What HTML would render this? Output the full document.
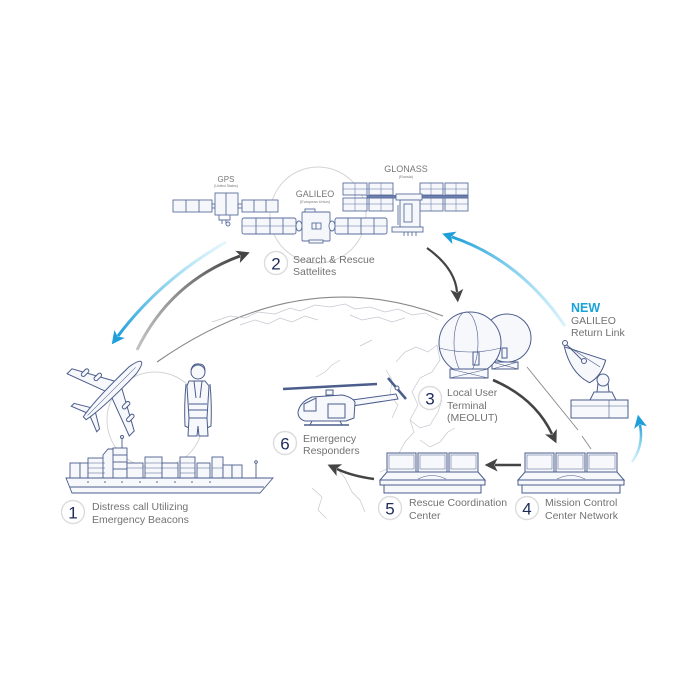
<!DOCTYPE html>
<html><head><meta charset="utf-8">
<style>
html,body{margin:0;padding:0;background:#fff;}
svg{display:block;}
text{font-family:"Liberation Sans",sans-serif;}
</style></head>
<body>
<svg width="700" height="700" viewBox="0 0 700 700" xmlns="http://www.w3.org/2000/svg">
<defs>
  <marker id="hd" viewBox="0 0 10 10" refX="2" refY="5" markerWidth="14" markerHeight="13" markerUnits="userSpaceOnUse" orient="auto">
    <path d="M0,0 L10,5 L0,10 L2.5,5 Z" fill="#444"/>
  </marker>
  <marker id="hb" viewBox="0 0 10 10" refX="2" refY="5" markerWidth="15" markerHeight="13" markerUnits="userSpaceOnUse" orient="auto">
    <path d="M0,0 L10,5 L0,10 L2.5,5 Z" fill="#1e9fd9"/>
  </marker>
  <linearGradient id="g12" gradientUnits="userSpaceOnUse" x1="137" y1="350" x2="240" y2="256">
    <stop offset="0" stop-color="#888" stop-opacity="0.5"/><stop offset="1" stop-color="#444"/>
  </linearGradient>
  <linearGradient id="g21" gradientUnits="userSpaceOnUse" x1="226" y1="242" x2="118" y2="336">
    <stop offset="0" stop-color="#7fd6f2" stop-opacity="0.2"/><stop offset="1" stop-color="#1e9fd9"/>
  </linearGradient>
  <linearGradient id="gret" gradientUnits="userSpaceOnUse" x1="565" y1="326" x2="452" y2="237">
    <stop offset="0" stop-color="#7fd6f2" stop-opacity="0.3"/><stop offset="1" stop-color="#1e9fd9"/>
  </linearGradient>
  <linearGradient id="gsm" gradientUnits="userSpaceOnUse" x1="632" y1="462" x2="640" y2="424">
    <stop offset="0" stop-color="#7fd6f2" stop-opacity="0.3"/><stop offset="1" stop-color="#1e9fd9"/>
  </linearGradient>
</defs>

<rect width="700" height="700" fill="#fff"/>

<!-- faint grouping circles -->
<circle cx="318" cy="215" r="48" fill="none" stroke="#d4d4d4" stroke-width="1"/>
<circle cx="155" cy="420" r="48" fill="none" stroke="#d4d4d4" stroke-width="1"/>

<!-- globe arc -->
<path d="M157,362 Q300,262 443,316" fill="none" stroke="#888" stroke-width="1.1"/>
<!-- faint map lines -->
<g fill="none" stroke="#c4c8cf" stroke-width="0.7">
  <path d="M212,322 L230,316 L245,318 L258,312 L275,314 L290,308 L300,311 L315,305 L330,307 L345,304 L355,309 L370,307 L385,312 L398,309 L412,315 L425,313 L438,320"/>
  <path d="M240,325 L255,320 L268,324 L280,318 L292,322 L305,316 L318,320"/>
  <path d="M350,315 L362,320 L378,317 L392,322 L405,318"/>
  <path d="M396,362 L405,352 L416,347 L428,352 L437,345 L440,360 L432,372 L420,378 L412,392 L418,405 L410,420 L414,432 L405,442 L398,455 L390,468 L380,472"/>
  <path d="M410,420 L420,428 L430,425 L438,412 L442,400"/>
  <path d="M420,440 L430,447 L440,442 L448,432 L455,428"/>
  <path d="M386,370 L392,380 L390,395 L398,405 L392,418"/>
  <path d="M335,466 L345,478 L352,492 L360,500 L365,512"/>
  <path d="M312,488 L322,497 L318,510 L326,518"/>
  <path d="M316,377 L325,372 L332,365 L340,360"/>
  <path d="M360,346 L372,340"/>
</g>

<!-- connector lines -->
<path d="M527,367 L578,430" stroke="#888" stroke-width="0.9" fill="none"/>
<path d="M582,436 L591,449" stroke="#888" stroke-width="0.9" fill="none"/>

<!-- arrows -->
<path d="M137,350 Q170,282 240,256" fill="none" stroke="url(#g12)" stroke-width="3" marker-end="url(#hd)"/>
<path d="M226,242 Q160,280 118,336" fill="none" stroke="url(#g21)" stroke-width="3" marker-end="url(#hb)"/>
<path d="M565,326 Q520,260 452,237" fill="none" stroke="url(#gret)" stroke-width="3" marker-end="url(#hb)"/>
<path d="M427,248 Q455,268 457,292" fill="none" stroke="#444" stroke-width="2.2" marker-end="url(#hd)"/>
<path d="M493,380 Q535,398 552,434" fill="none" stroke="#444" stroke-width="2.6" marker-end="url(#hd)"/>
<path d="M521,465 L495,465" fill="none" stroke="#444" stroke-width="2.6" marker-end="url(#hd)"/>
<path d="M374,479 Q352,476 337,469" fill="none" stroke="#444" stroke-width="2.6" marker-end="url(#hd)"/>
<path d="M632,462 Q644,445 640,425" fill="none" stroke="url(#gsm)" stroke-width="2.5" marker-end="url(#hb)"/>

<!-- ================= SATELLITES ================= -->
<g stroke="#5b6e9c" stroke-width="0.9" fill="#f5f7fb">
  <!-- GPS -->
  <rect x="173" y="200" width="39" height="12"/>
  <line x1="186" y1="200" x2="186" y2="212"/><line x1="199" y1="200" x2="199" y2="212"/>
  <rect x="212" y="204" width="3" height="4"/>
  <rect x="215" y="193" width="23" height="22"/>
  <line x1="226" y1="193" x2="226" y2="215"/>
  <rect x="238" y="204" width="4" height="4"/>
  <rect x="242" y="200" width="36" height="12"/>
  <line x1="254" y1="200" x2="254" y2="212"/><line x1="266" y1="200" x2="266" y2="212"/>
  <path d="M219,215 L219,220 L230,220 L230,215 M222,220 L222,224 M226,220 L226,224" fill="none"/>
  <circle cx="228" cy="224" r="2"/>
  <!-- GALILEO -->
  <rect x="242" y="218" width="54" height="16" rx="2"/>
  <line x1="242" y1="226" x2="296" y2="226" stroke-width="0.6"/>
  <line x1="256" y1="218" x2="256" y2="234"/><line x1="270" y1="218" x2="270" y2="234"/><line x1="283" y1="218" x2="283" y2="234"/>
  <ellipse cx="299" cy="226" rx="3" ry="5"/>
  <rect x="302" y="212" width="28" height="29" rx="1"/>
  <rect x="305" y="209" width="10" height="3"/>
  <rect x="309" y="240" width="14" height="3"/>
  <rect x="312" y="223" width="9" height="6"/>
  <line x1="316" y1="223" x2="316" y2="229"/>
  <ellipse cx="332" cy="226" rx="3" ry="5"/>
  <rect x="335" y="218" width="52" height="16" rx="2"/>
  <line x1="335" y1="226" x2="387" y2="226" stroke-width="0.6"/>
  <line x1="348" y1="218" x2="348" y2="234"/><line x1="361" y1="218" x2="361" y2="234"/><line x1="374" y1="218" x2="374" y2="234"/>
  <!-- GLONASS -->
  <rect x="343" y="183" width="24" height="12"/><rect x="369" y="183" width="24" height="12"/>
  <rect x="343" y="198" width="24" height="13"/><rect x="369" y="198" width="24" height="13"/>
  <rect x="420" y="183" width="23" height="12"/><rect x="445" y="183" width="23" height="12"/>
  <rect x="420" y="198" width="23" height="13"/><rect x="445" y="198" width="23" height="13"/>
  <line x1="355" y1="183" x2="355" y2="211" stroke-width="0.5"/><line x1="381" y1="183" x2="381" y2="211" stroke-width="0.5"/>
  <line x1="431" y1="183" x2="431" y2="211" stroke-width="0.5"/><line x1="456" y1="183" x2="456" y2="211" stroke-width="0.5"/>
  <line x1="343" y1="189" x2="393" y2="189" stroke-width="0.5"/><line x1="343" y1="204" x2="393" y2="204" stroke-width="0.5"/>
  <line x1="420" y1="189" x2="468" y2="189" stroke-width="0.5"/><line x1="420" y1="204" x2="468" y2="204" stroke-width="0.5"/>
  <rect x="367" y="195.5" width="101" height="2.5" fill="#6d7fb0"/>
  <rect x="396" y="194" width="26" height="6"/>
  <rect x="400" y="200" width="20" height="27"/>
  <rect x="404" y="204" width="8" height="18"/>
  <line x1="398" y1="205" x2="398" y2="225"/>
  <rect x="392" y="227" width="31" height="5"/>
  <path d="M404,232 L404,236 M408,232 L408,236 M412,232 L412,236 M416,232 L416,236" fill="none"/>
</g>
<g fill="#777" text-anchor="middle">
  <text x="226" y="182" font-size="8">GPS</text>
  <text x="226" y="187" font-size="3.6">(United States)</text>
  <text x="315" y="197" font-size="9">GALILEO</text>
  <text x="315" y="203" font-size="3.8">(European Union)</text>
  <text x="406" y="172" font-size="9">GLONASS</text>
  <text x="406" y="178" font-size="3.8">(Russia)</text>
</g>

<!-- ================= AIRPLANE ================= -->
<g transform="translate(113,390) rotate(-45)" stroke="#4b5d8b" stroke-width="1" fill="#f7f8fc">
  <path d="M8,-4 L-14,-44 L-21,-44 L-6,-4 Z"/>
  <path d="M8,4 L-14,44 L-21,44 L-6,4 Z"/>
  <rect x="-6" y="-22" width="9" height="4" rx="2"/>
  <rect x="-12" y="-34" width="9" height="4" rx="2"/>
  <rect x="-6" y="18" width="9" height="4" rx="2"/>
  <rect x="-12" y="30" width="9" height="4" rx="2"/>
  <path d="M-28,-3 L-37,-18 L-41,-18 L-35,-3 Z"/>
  <path d="M-28,3 L-37,18 L-41,18 L-35,3 Z"/>
  <path d="M-40,-2 Q-20,-6 28,-5 Q40,-3 40,0 Q40,3 28,5 Q-20,6 -40,2 Z"/>
  <line x1="-36" y1="0" x2="32" y2="0" stroke-width="0.5"/>
</g>

<!-- ================= PERSON ================= -->
<g stroke="#4b5d8b" stroke-width="1" fill="#f7f8fc">
  <path d="M186,384 Q184,405 185,426 L189,428 L190,406"/>
  <path d="M210,384 Q212,405 211,426 L207,428 L206,406"/>
  <path d="M189,381 L205,381 L209,386 L207,418 L189,418 L187,386 Z"/>
  <path d="M189,404 L207,404 M189,410 L207,410" fill="none"/>
  <path d="M194,381 L196,398 M202,381 L200,398" fill="none"/>
  <path d="M189,418 L188,436 L197,436 L198,426 L199,436 L208,436 L207,418 Z"/>
  <circle cx="198" cy="372" r="7"/>
  <path d="M191,370 Q193,363 199,364 Q205,364 205,371" fill="none"/>
</g>

<!-- ================= SHIP ================= -->
<g stroke="#4b5d8b" stroke-width="0.9" fill="#f7f8fc">
  <rect x="70" y="463" width="10" height="15"/>
  <rect x="80" y="463" width="8" height="15"/>
  <rect x="88" y="458" width="17" height="20"/>
  <path d="M103,478 L103,455 L108,449 L114,449 L114,478 Z"/>
  <rect x="113" y="448" width="14" height="30"/>
  <line x1="113" y1="455" x2="127" y2="455"/><line x1="113" y1="462" x2="127" y2="462"/><line x1="113" y1="469" x2="127" y2="469"/>
  <line x1="122" y1="448" x2="122" y2="437"/><circle cx="122" cy="437" r="1.5"/>
  <rect x="127" y="463" width="16" height="15"/>
  <rect x="145" y="457" width="17" height="21"/>
  <rect x="162" y="463" width="16" height="15"/>
  <rect x="180" y="457" width="15" height="21"/>
  <rect x="197" y="463" width="13" height="15"/>
  <rect x="212" y="457" width="11" height="21"/>
  <rect x="223" y="465" width="9" height="13"/>
  <rect x="232" y="465" width="10" height="13"/>
  <g stroke-width="0.5" fill="none">
    <path d="M88,463 L105,463 M88,468 L105,468 M88,473 L105,473 M145,463 L162,463 M145,468 L162,468 M145,473 L162,473 M180,463 L195,463 M180,468 L195,468 M180,473 L195,473 M127,468 L143,468 M162,468 L178,468 M197,468 L210,468 M212,468 L223,468"/>
  </g>
  <line x1="256" y1="478" x2="256" y2="463"/><circle cx="256" cy="462" r="1.3"/>
  <path d="M66,478 L273,478 L260,493 L72,493 Z"/>
  <line x1="70" y1="487" x2="264" y2="487"/>
  <g fill="#4b5d8b" stroke="none">
    <circle cx="88" cy="482" r="0.8"/><circle cx="105" cy="482" r="0.8"/><circle cx="122" cy="482" r="0.8"/><circle cx="140" cy="482" r="0.8"/><circle cx="157" cy="482" r="0.8"/><circle cx="175" cy="482" r="0.8"/><circle cx="192" cy="482" r="0.8"/><circle cx="210" cy="482" r="0.8"/>
  </g>
</g>

<!-- ================= HELICOPTER ================= -->
<g stroke="#4b5d8b" stroke-width="1" fill="#f7f8fc">
  <path d="M352,400 L396,394 L398,399 L352,406 Z"/>
  <path d="M298,412 Q300,402 312,397 L342,395 Q352,397 355,402 L354,418 L346,421 L305,421 Q298,419 298,412 Z"/>
  <path d="M304,404 L316,398 L316,411 L304,411 Z" fill="none"/>
  <path d="M328,404 L345,404 L345,418 L328,418 Z" fill="none"/>
  <rect x="326" y="390" width="7" height="5"/>
  <line x1="312" y1="421" x2="310" y2="425"/><line x1="340" y1="421" x2="342" y2="425"/>
  <line x1="304" y1="425" x2="349" y2="425" stroke-width="1.5"/>
  <line x1="283" y1="389" x2="377" y2="384" stroke-width="2.5"/>
  <line x1="388" y1="378" x2="406" y2="399" stroke-width="2.5"/>
  <circle cx="397" cy="388" r="2"/>
</g>

<!-- ================= DOMES (MEOLUT) ================= -->
<g stroke="#4b5d8b" stroke-width="1" fill="#f7f8fc">
  <circle cx="507" cy="338" r="24"/>
  <rect x="502" y="348" width="5" height="10" fill="none"/>
  <rect x="492" y="362" width="26" height="7"/>
  <path d="M492,362 L518,369 M518,362 L492,369" fill="none" stroke-width="0.6"/>
  <circle cx="470" cy="343" r="31"/>
  <ellipse cx="466" cy="343" rx="12" ry="31" fill="none" stroke-width="0.6"/>
  <path d="M439,348 Q470,356 501,348" fill="none" stroke-width="0.6"/>
  <rect x="473" y="352" width="6" height="13" fill="none"/>
  <rect x="450" y="369" width="38" height="9"/>
  <path d="M450,369 L488,378 M488,369 L450,378" fill="none" stroke-width="0.6"/>
</g>

<!-- ================= DISH ================= -->
<g stroke="#4b5d8b" stroke-width="1" fill="#f7f8fc">
  <rect x="571" y="400" width="57" height="18"/>
  <line x1="571" y1="406" x2="628" y2="406" stroke-width="0.6"/>
  <line x1="609" y1="400" x2="609" y2="418" stroke-width="0.6"/>
  <path d="M590,400 L594,392 L612,392 L616,400 Z"/>
  <path d="M597,392 L598,383 L608,383 L609,392 Z"/>
  <circle cx="603" cy="380" r="6"/>
  <path d="M566,345 Q570,372 588,383 Q600,378 606,362 Z" transform="rotate(-5 585 365)"/>
  <path d="M566,345 L600,367" fill="none" stroke-width="0.6"/>
  <line x1="566" y1="344" x2="584" y2="362"/>
  <circle cx="565" cy="343" r="2.5"/>
  <circle cx="584" cy="361" r="2.5"/>
</g>

<!-- ================= CONSOLES ================= -->
<g stroke="#4b5d8b" stroke-width="1" fill="#f7f8fc">
  <!-- console 5 -->
  <path d="M387,472 L478,472 L485,480 L380,480 Z"/>
  <rect x="380" y="480" width="105" height="5"/>
  <rect x="384" y="485" width="97" height="8"/>
  <rect x="387" y="453" width="29" height="19"/>
  <rect x="418" y="453" width="29" height="19"/>
  <rect x="449" y="453" width="29" height="19"/>
  <rect x="389" y="455" width="25" height="14" fill="none" stroke-width="0.5"/>
  <rect x="420" y="455" width="25" height="14" fill="none" stroke-width="0.5"/>
  <rect x="451" y="455" width="25" height="14" fill="none" stroke-width="0.5"/>
  <path d="M418,479 Q432,472 446,479" fill="none" stroke-width="0.6"/>
  <!-- console 4 -->
  <path d="M525,472 L617,472 L624,480 L518,480 Z"/>
  <rect x="518" y="480" width="106" height="5"/>
  <rect x="522" y="485" width="98" height="8"/>
  <rect x="525" y="453" width="29" height="19"/>
  <rect x="556" y="453" width="29" height="19"/>
  <rect x="587" y="453" width="30" height="19"/>
  <rect x="527" y="455" width="25" height="14" fill="none" stroke-width="0.5"/>
  <rect x="558" y="455" width="25" height="14" fill="none" stroke-width="0.5"/>
  <rect x="589" y="455" width="26" height="14" fill="none" stroke-width="0.5"/>
  <path d="M557,479 Q571,472 585,479" fill="none" stroke-width="0.6"/>
</g>

<!-- ================= NUMBER CIRCLES & LABELS ================= -->
<g fill="#fff" stroke="#dcdcdc" stroke-width="1.4">
  <circle cx="276" cy="263" r="11.5"/>
  <circle cx="73" cy="512" r="11.5"/>
  <circle cx="430" cy="398" r="11.5"/>
  <circle cx="527" cy="508" r="11.5"/>
  <circle cx="390" cy="508" r="11.5"/>
  <circle cx="285" cy="443" r="11.5"/>
</g>
<g fill="#1d2b5a" font-size="17" text-anchor="middle">
  <text x="276" y="269.5">2</text>
  <text x="73" y="518.5">1</text>
  <text x="430" y="404.5">3</text>
  <text x="527" y="514.5">4</text>
  <text x="390" y="514.5">5</text>
  <text x="285" y="449.5">6</text>
</g>
<g fill="#727272" font-size="10.5">
  <text x="293" y="263">Search &amp; Rescue</text>
  <text x="293" y="275">Sattelites</text>
  <text x="92" y="510">Distress call Utilizing</text>
  <text x="92" y="523">Emergency Beacons</text>
  <text x="447" y="396">Local User</text>
  <text x="447" y="409">Terminal</text>
  <text x="447" y="421">(MEOLUT)</text>
  <text x="545" y="506">Mission Control</text>
  <text x="545" y="519">Center Network</text>
  <text x="409" y="506">Rescue Coordination</text>
  <text x="409" y="519">Center</text>
  <text x="303" y="442">Emergency</text>
  <text x="303" y="454">Responders</text>
  <text x="571" y="324">GALILEO</text>
  <text x="571" y="336">Return Link</text>
</g>
<text x="571" y="312" font-size="12.5" font-weight="bold" fill="#1aa3d6">NEW</text>
</svg>
</body></html>
